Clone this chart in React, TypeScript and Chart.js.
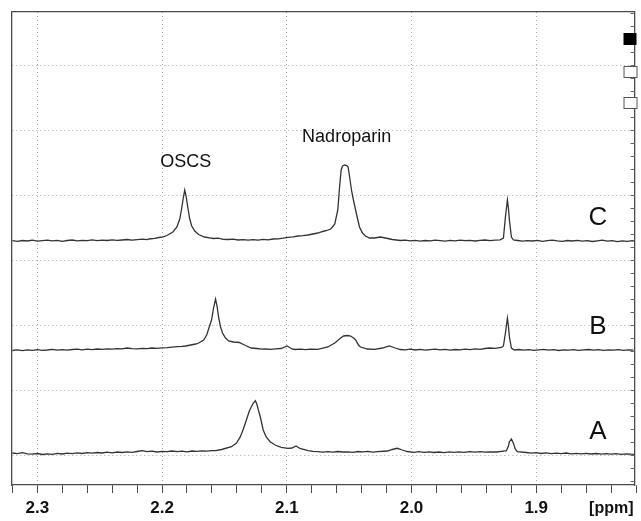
import React, { useEffect, useRef } from 'react';
import { Chart, registerables } from 'chart.js';

Chart.register(...registerables);

// ---- axis data ----
const X_MAX = 2.3203; // left edge (reversed axis)
const X_MIN = 1.8212; // right edge
const X_TICKS = [2.32, 2.30, 2.28, 2.26, 2.24, 2.22, 2.20, 2.18, 2.16, 2.14, 2.12, 2.10, 2.08, 2.06, 2.04, 2.02, 2.00, 1.98, 1.96, 1.94, 1.92, 1.90, 1.88, 1.86, 1.84, 1.82];
const Y_MIN = -30;
const Y_MAX = 443;
const Y_GRID = [0, 65, 130, 195, 260, 325, 390];
const Y_MINOR_STEP = 13;
const X_UNIT = '[ppm]';

// ---- stacking offsets of the three spectra (intensity units) ----
const OFFSET_A = 2;
const OFFSET_B = 105;
const OFFSET_C = 214;

// ---- spectra: [ppm, relative intensity] ----
const SPEC_C: [number, number][] = [
  [2.320, 0.3], [2.316, -0.4], [2.312, 0.5], [2.308, 0.0], [2.304, 0.8], [2.300, -0.2], [2.296, 0.4], [2.292, 0.9],
  [2.288, 0.1], [2.284, 0.6], [2.280, -0.3], [2.276, 0.5], [2.272, 1.0], [2.268, 0.2], [2.264, 0.7], [2.260, 0.3],
  [2.256, 1.1], [2.252, 0.4], [2.248, 0.9], [2.244, 0.5], [2.240, 1.2], [2.236, 0.6], [2.232, 1.0], [2.228, 1.5],
  [2.224, 0.9], [2.220, 1.4], [2.216, 1.8], [2.212, 1.3], [2.2104, 2.0], [2.2060, 2.6], [2.2025, 3.5], [2.1990, 4.2],
  [2.1961, 5.5], [2.1913, 9], [2.1881, 14], [2.1858, 22], [2.1842, 33], [2.1830, 43], [2.1818, 51], [2.1806, 44],
  [2.1794, 34], [2.1778, 22], [2.1762, 15], [2.1738, 10], [2.1707, 6.5], [2.1659, 4], [2.1620, 3.2], [2.1587, 2.5],
  [2.1550, 2.8], [2.1510, 1.6], [2.1468, 1.5], [2.1430, 1.9], [2.1390, 1.0], [2.1350, 1.4], [2.1310, 0.8], [2.1270, 1.3],
  [2.1230, 0.9], [2.1190, 1.6], [2.1150, 1.2], [2.1110, 2.0], [2.1069, 2.2], [2.1030, 2.8], [2.0990, 3.6], [2.0950, 4.2],
  [2.0910, 5.0], [2.0870, 5.4], [2.0830, 6.0], [2.0790, 7.0], [2.0751, 8.0], [2.0712, 9.5], [2.0679, 10.5], [2.0647, 12],
  [2.0615, 17], [2.0591, 31], [2.0576, 55], [2.0564, 71], [2.0552, 75], [2.0536, 76], [2.0520, 75.5], [2.0508, 74],
  [2.0496, 64], [2.0480, 50], [2.0464, 40], [2.0448, 31], [2.0432, 22], [2.0417, 14], [2.0393, 8], [2.0369, 5],
  [2.0337, 3], [2.0297, 3], [2.0249, 4], [2.0209, 3], [2.0154, 1.5], [2.0090, 0.5], [2.0050, 0.9], [2.0010, 0.2],
  [1.9970, 0.7], [1.9930, -0.2], [1.9890, 0.5], [1.9850, 0.1], [1.9810, 0.8], [1.9770, 0.3], [1.9730, -0.1], [1.9690, 0.6],
  [1.9650, 0.2], [1.9610, 0.9], [1.9570, 0.3], [1.9530, 0.7], [1.9490, 0.0], [1.9450, 0.6], [1.9410, 1.0], [1.9370, 0.4],
  [1.9330, 0.9], [1.9290, 1.2], [1.9263, 3], [1.9247, 24], [1.9231, 41], [1.9223, 33], [1.9215, 21], [1.9199, 4],
  [1.9183, 1], [1.9150, 0.5], [1.9110, -0.2], [1.9070, 0.4], [1.9030, 0.0], [1.8990, 0.6], [1.8950, -0.3], [1.8910, 0.3],
  [1.8870, 0.9], [1.8830, 0.1], [1.8790, -0.4], [1.8750, 0.5], [1.8710, 0.0], [1.8670, 0.7], [1.8630, -0.2], [1.8590, 0.3],
  [1.8550, -0.5], [1.8510, 0.2], [1.8470, 0.8], [1.8430, -0.1], [1.8390, 0.4], [1.8350, -0.6], [1.8310, 0.2], [1.8270, -0.3],
  [1.8230, 0.3], [1.8200, -0.2],
];

const SPEC_B: [number, number][] = [
  [2.320, -0.5], [2.316, 0.2], [2.312, -0.6], [2.308, 0.1], [2.304, -0.3], [2.300, 0.4], [2.296, -0.4], [2.292, 0.0],
  [2.288, 0.6], [2.284, -0.2], [2.280, 0.3], [2.276, -0.1], [2.272, 0.5], [2.268, 0.8], [2.264, 0.2], [2.260, 0.9],
  [2.256, 0.4], [2.252, 1.0], [2.248, 0.6], [2.244, 1.2], [2.240, 0.8], [2.236, 1.4], [2.232, 1.1], [2.228, 2.0],
  [2.224, 1.4], [2.220, 1.2], [2.216, 1.7], [2.212, 1.4], [2.208, 2.0], [2.204, 1.6], [2.200, 2.1], [2.196, 2.4],
  [2.192, 2.9], [2.188, 3.3], [2.184, 3.6], [2.1810, 4], [2.1770, 5], [2.1730, 6], [2.1706, 7], [2.1666, 10],
  [2.1642, 15], [2.1619, 24], [2.1603, 30], [2.1587, 42], [2.1571, 51], [2.1559, 44], [2.1547, 33], [2.1531, 23],
  [2.1515, 17], [2.1491, 12], [2.1467, 9], [2.1427, 8], [2.1380, 7.5], [2.1332, 4.5], [2.1284, 2], [2.1240, 1.5],
  [2.1200, 0.8], [2.1173, 1], [2.1130, 0.6], [2.1090, 1.2], [2.1045, 1.5], [2.0998, 4], [2.0958, 1], [2.0934, 0.5],
  [2.0890, 0.9], [2.0850, 0.3], [2.0810, 0.8], [2.0751, 0.7], [2.0671, 3], [2.0615, 7], [2.0568, 12], [2.0544, 14],
  [2.0512, 14.5], [2.0488, 14], [2.0464, 12], [2.0448, 10], [2.0425, 5], [2.0409, 3], [2.0353, 1], [2.0297, 0.7],
  [2.0233, 2], [2.0178, 4], [2.0130, 2], [2.0090, 0.5], [2.0050, 0.2], [2.0010, 0.8], [1.9970, 0.0], [1.9930, 0.6],
  [1.9890, -0.2], [1.9850, 0.4], [1.9810, 0.9], [1.9770, 0.1], [1.9730, 0.6], [1.9690, -0.1], [1.9650, 0.5], [1.9610, 0.2],
  [1.9570, 0.8], [1.9530, 0.4], [1.9490, 1.1], [1.9450, 0.6], [1.9410, 1.5], [1.9374, 2], [1.9330, 1.6], [1.9279, 2.5],
  [1.9263, 4], [1.9247, 17], [1.9231, 32], [1.9223, 24], [1.9215, 13], [1.9199, 2], [1.9175, 0], [1.9140, 0.5],
  [1.9100, -0.2], [1.9060, 0.4], [1.9020, -0.4], [1.8980, 0.2], [1.8940, 0.6], [1.8900, -0.1], [1.8860, 0.3], [1.8820, -0.5],
  [1.8780, 0.2], [1.8740, -0.2], [1.8700, 0.4], [1.8660, -0.3], [1.8620, 0.1], [1.8580, 0.5], [1.8540, -0.2], [1.8500, 0.3],
  [1.8460, -0.4], [1.8420, 0.2], [1.8380, -0.1], [1.8340, 0.4], [1.8300, -0.3], [1.8260, 0.1], [1.8220, -0.2],
];

const SPEC_A: [number, number][] = [
  [2.320, 0.0], [2.316, -0.6], [2.312, 0.3], [2.308, -0.8], [2.304, -1.2], [2.300, -0.5], [2.296, -1.5], [2.292, -0.8],
  [2.288, -1.3], [2.284, -0.4], [2.280, -1.0], [2.276, -0.2], [2.272, -0.7], [2.268, 0.1], [2.264, -0.5], [2.260, 0.3],
  [2.256, -0.2], [2.252, 0.5], [2.248, 0.0], [2.244, 0.8], [2.240, 0.2], [2.236, 1.0], [2.232, 0.5], [2.228, 1.2],
  [2.224, 0.7], [2.220, 1.5], [2.216, 2.3], [2.212, 1.4], [2.208, 1.8], [2.204, 1.0], [2.200, 1.6], [2.196, 1.3],
  [2.192, 2.0], [2.188, 1.4], [2.184, 1.8], [2.180, 1.2], [2.176, 2.0], [2.172, 1.6], [2.168, 2.2], [2.164, 1.8],
  [2.160, 2.4], [2.1570, 2.3], [2.1523, 3.5], [2.1443, 6.3], [2.1403, 10], [2.1372, 16.3], [2.1348, 24], [2.1324, 33],
  [2.1300, 42], [2.1284, 46.3], [2.1268, 50], [2.1252, 52.3], [2.1240, 49], [2.1228, 43], [2.1212, 36], [2.1189, 23],
  [2.1165, 16], [2.1133, 11.3], [2.1093, 8], [2.1045, 5.7], [2.0990, 4.7], [2.0958, 5], [2.0926, 7], [2.0894, 4.5],
  [2.0830, 2.3], [2.0790, 1.6], [2.0751, 1.3], [2.0710, 0.8], [2.0670, 1.4], [2.0630, 0.9], [2.0590, 1.5], [2.0550, 1.0],
  [2.0510, 1.2], [2.0470, 0.7], [2.0430, 1.5], [2.0390, 1.1], [2.0350, 1.6], [2.0310, 0.9], [2.0273, 1.3], [2.0193, 2],
  [2.0154, 3.5], [2.0114, 4.7], [2.0074, 3], [2.0034, 1.5], [1.9979, 0.7], [1.9940, 1.3], [1.9900, 0.6], [1.9860, 1.2],
  [1.9820, 0.5], [1.9780, 1.0], [1.9740, 0.4], [1.9700, 1.1], [1.9660, 0.6], [1.9620, 1.2], [1.9580, 0.7], [1.9533, 1.3],
  [1.9490, 0.8], [1.9450, 1.4], [1.9410, 0.9], [1.9370, 1.2], [1.9318, 1], [1.9280, 1.6], [1.9239, 2.3], [1.9223, 7],
  [1.9215, 11.3], [1.9199, 14], [1.9183, 9.7], [1.9168, 4], [1.9152, 1.3], [1.9080, 0.5], [1.9040, -0.2], [1.9000, 0.3],
  [1.8960, -0.5], [1.8920, 0.1], [1.8880, -0.6], [1.8840, -0.1], [1.8800, -0.7], [1.8760, 0.0], [1.8720, -0.8], [1.8680, -0.3],
  [1.8640, -0.9], [1.8600, -0.4], [1.8560, -1.0], [1.8520, -0.5], [1.8480, -1.1], [1.8440, -0.6], [1.8400, -1.2], [1.8360, -0.7],
  [1.8320, -1.3], [1.8280, -0.8], [1.8240, -1.2], [1.8200, -1.3],
];

// ---- annotations: [text, ppm, intensity] ----
const PEAK_LABELS: [string, number, number][] = [
  ['OSCS', 2.181, 293],
  ['Nadroparin', 2.052, 318],
];
const TRACE_LABELS: [string, number, number][] = [
  ['C', 1.8506, 237],
  ['B', 1.8506, 128],
  ['A', 1.8506, 23],
];

const FONT = '"Liberation Sans", Arial, Helvetica, sans-serif';
const LINE = '#333333';
const FRAME = '#4a4a4a';
const GRID = '#a8a8a8';

const isMajor = (v: number) => Math.abs(v * 10 - Math.round(v * 10)) < 1e-6;

const toPoints = (spec: [number, number][], off: number) => spec.map(([x, y]) => ({ x, y: y + off }));

const overlay = {
  id: 'overlay',
  afterDatasetsDraw(chart: any) {
    const { ctx, chartArea, scales } = chart;
    const xs = scales.x;
    const ys = scales.y;
    ctx.save();
    ctx.fillStyle = '#111';
    ctx.textAlign = 'center';
    ctx.textBaseline = 'middle';
    ctx.font = `18px ${FONT}`;
    PEAK_LABELS.forEach(([t, p, v]) => ctx.fillText(t, xs.getPixelForValue(p), ys.getPixelForValue(v)));
    ctx.font = `26px ${FONT}`;
    TRACE_LABELS.forEach(([t, p, v]) => ctx.fillText(t, xs.getPixelForValue(p), ys.getPixelForValue(v)));

    // inward minor ticks on the right frame
    ctx.strokeStyle = '#666';
    ctx.lineWidth = 1;
    ctx.beginPath();
    for (let v = Y_MIN + 4; v < Y_MAX; v += Y_MINOR_STEP) {
      const py = Math.round(ys.getPixelForValue(v)) + 0.5;
      ctx.moveTo(chartArea.right - 4, py);
      ctx.lineTo(chartArea.right, py);
    }
    ctx.stroke();

    // trace selector boxes (top right)
    const bx = chartArea.right - 11;
    const boxes = [21, 54, 85];
    boxes.forEach((dy, i) => {
      const by = chartArea.top + dy;
      if (i === 0) {
        ctx.fillStyle = '#000';
        ctx.fillRect(bx, by, 13, 12);
      } else {
        ctx.fillStyle = '#fff';
        ctx.fillRect(bx, by, 13, 12);
        ctx.strokeStyle = '#555';
        ctx.strokeRect(bx + 0.5, by + 0.5, 13, 11);
      }
    });

    // axis unit
    ctx.fillStyle = '#111';
    ctx.font = `bold 16px ${FONT}`;
    ctx.textAlign = 'right';
    ctx.fillText(X_UNIT, chartArea.right - 1, xs.top + 24);
    ctx.restore();
  },
};

export default function App() {
  const ref = useRef<HTMLCanvasElement | null>(null);
  useEffect(() => {
    if (!ref.current) return;
    const chart = new Chart(ref.current, {
      type: 'line',
      data: {
        datasets: [
          { label: 'C', data: toPoints(SPEC_C, OFFSET_C) },
          { label: 'B', data: toPoints(SPEC_B, OFFSET_B) },
          { label: 'A', data: toPoints(SPEC_A, OFFSET_A) },
        ].map((d) => ({
          ...d,
          borderColor: LINE,
          borderWidth: 1.3,
          pointRadius: 0,
          tension: 0,
          fill: false,
        })),
      },
      options: {
        animation: false,
        responsive: false,
        events: [],
        layout: { padding: 0 },
        plugins: { legend: { display: false }, tooltip: { enabled: false } },
        scales: {
          x: {
            type: 'linear',
            position: 'bottom',
            reverse: true,
            min: X_MIN,
            max: X_MAX,
            afterBuildTicks: (s: any) => {
              s.ticks = X_TICKS.map((value) => ({ value }));
            },
            afterFit: (s: any) => {
              s.height = 36;
            },
            ticks: {
              autoSkip: false,
              maxRotation: 0,
              padding: 5,
              color: '#111',
              font: { family: FONT, size: 17, weight: 'bold' },
              callback: (v: any) => (isMajor(Number(v)) ? Number(v).toFixed(1) : ''),
            },
            grid: {
              color: (c: any) => (c.tick && isMajor(c.tick.value) && c.tick.value < 2.315 ? GRID : 'rgba(0,0,0,0)'),
              tickColor: FRAME,
              tickLength: 8,
              lineWidth: 1,
            },
            border: { display: true, color: FRAME, width: 1.3, dash: [1, 3] },
          },
          x2: {
            type: 'linear',
            position: 'top',
            reverse: true,
            min: X_MIN,
            max: X_MAX,
            afterFit: (s: any) => {
              s.height = 12;
            },
            ticks: { display: false },
            grid: { display: false, drawTicks: false },
            border: { display: true, color: FRAME, width: 1.3 },
          },
          y: {
            type: 'linear',
            position: 'left',
            min: Y_MIN,
            max: Y_MAX,
            afterBuildTicks: (s: any) => {
              s.ticks = Y_GRID.map((value) => ({ value }));
            },
            afterFit: (s: any) => {
              s.width = 12;
            },
            ticks: { display: false },
            grid: { color: GRID, drawTicks: false, lineWidth: 1 },
            border: { display: true, color: FRAME, width: 1.3, dash: [1, 3] },
          },
          y2: {
            type: 'linear',
            position: 'right',
            min: Y_MIN,
            max: Y_MAX,
            afterFit: (s: any) => {
              s.width = 2;
            },
            ticks: { display: false },
            grid: { display: false, drawTicks: false },
            border: { display: true, color: FRAME, width: 1.3 },
          },
        },
      },
      plugins: [overlay],
    } as any);
    return () => chart.destroy();
  }, []);

  return (
    <div style={{ position: 'fixed', left: 0, top: 0, width: 641, height: 521, background: '#fff' }}>
      <canvas ref={ref} width={641} height={521} style={{ display: 'block' }} />
    </div>
  );
}
